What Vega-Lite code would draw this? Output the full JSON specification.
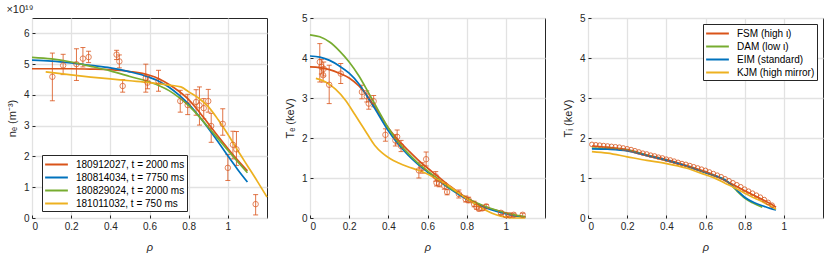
{
  "$schema": "https://vega.github.io/schema/vega-lite/v6.json",
  "padding": {"left": 5, "top": 3, "right": 0, "bottom": 0},
  "bounds": "flush",
  "spacing": 43,
  "config": {
    "font": "Liberation Sans",
    "view": {"stroke": "#262626", "strokeWidth": 1},
    "axis": {
      "domain": false, "gridColor": "#e2e2e2", "gridWidth": 1.3,
      "labelFontSize": 10, "labelColor": "#262626", "titleFontSize": 11,
      "titleFontWeight": "normal", "titleColor": "#262626", "labelOverlap": false,
      "tickColor": "#262626", "tickSize": -3, "labelPadding": 6, "tickCount": 12, "format": "~g"
    },
    "axisX": {"titlePadding": 10},
    "axisY": {"titlePadding": 6},
    "legend": {
      "title": null, "strokeColor": "#262626", "fillColor": "white", "padding": 2,
      "cornerRadius": 0, "symbolType": "M-1.75,0H1.75", "symbolSize": 169, "symbolStrokeWidth": 2,
      "symbolOffset": 5, "labelOffset": 12,
      "labelFontSize": 10, "labelColor": "#000", "rowPadding": 0, "labelLimit": 300
    }
  },
  "resolve": {"scale": {"color": "independent"}, "legend": {"color": "independent"}},
  "datasets": {
    "ne_pts": [
      {"rho": 0.104, "v": 4.59, "lo": 3.81, "hi": 5.36},
      {"rho": 0.159, "v": 4.96, "lo": 4.66, "hi": 5.32},
      {"rho": 0.227, "v": 5.0, "lo": 4.47, "hi": 5.5},
      {"rho": 0.26, "v": 5.18, "lo": 4.91, "hi": 5.54},
      {"rho": 0.289, "v": 5.23, "lo": 5.05, "hi": 5.42},
      {"rho": 0.432, "v": 5.31, "lo": 5.15, "hi": 5.45},
      {"rho": 0.446, "v": 5.09, "lo": 4.88, "hi": 5.3},
      {"rho": 0.463, "v": 4.29, "lo": 4.09, "hi": 4.5},
      {"rho": 0.581, "v": 4.55, "lo": 4.09, "hi": 5.0},
      {"rho": 0.59, "v": 4.4, "lo": 4.2, "hi": 4.6},
      {"rho": 0.646, "v": 4.44, "lo": 4.12, "hi": 4.8},
      {"rho": 0.757, "v": 3.8, "lo": 3.44, "hi": 4.15},
      {"rho": 0.795, "v": 3.67, "lo": 3.36, "hi": 4.02},
      {"rho": 0.838, "v": 3.77, "lo": 3.34, "hi": 4.17},
      {"rho": 0.855, "v": 3.66, "lo": 3.02, "hi": 4.26},
      {"rho": 0.877, "v": 3.57, "lo": 3.22, "hi": 3.88},
      {"rho": 0.9, "v": 3.8, "lo": 3.44, "hi": 4.18},
      {"rho": 0.915, "v": 2.99, "lo": 2.46, "hi": 3.4},
      {"rho": 0.974, "v": 3.06, "lo": 2.69, "hi": 3.55},
      {"rho": 1.0, "v": 1.63, "lo": 1.22, "hi": 2.06},
      {"rho": 1.026, "v": 2.38, "lo": 1.92, "hi": 2.82},
      {"rho": 1.044, "v": 2.23, "lo": 1.71, "hi": 2.81},
      {"rho": 1.142, "v": 0.45, "lo": 0.1, "hi": 0.76}
    ],
    "ne_lines": [
      {"s": "180912027, t = 2000 ms", "rho": 0, "v": 4.85},
      {"s": "180912027, t = 2000 ms", "rho": 0.1, "v": 4.85},
      {"s": "180912027, t = 2000 ms", "rho": 0.2, "v": 4.85},
      {"s": "180912027, t = 2000 ms", "rho": 0.3, "v": 4.84},
      {"s": "180912027, t = 2000 ms", "rho": 0.4, "v": 4.82},
      {"s": "180912027, t = 2000 ms", "rho": 0.5, "v": 4.76},
      {"s": "180912027, t = 2000 ms", "rho": 0.6, "v": 4.64},
      {"s": "180912027, t = 2000 ms", "rho": 0.65, "v": 4.52},
      {"s": "180912027, t = 2000 ms", "rho": 0.7, "v": 4.34},
      {"s": "180912027, t = 2000 ms", "rho": 0.75, "v": 4.12},
      {"s": "180912027, t = 2000 ms", "rho": 0.8, "v": 3.85},
      {"s": "180912027, t = 2000 ms", "rho": 0.85, "v": 3.48},
      {"s": "180912027, t = 2000 ms", "rho": 0.9, "v": 3.07},
      {"s": "180912027, t = 2000 ms", "rho": 0.95, "v": 2.66},
      {"s": "180912027, t = 2000 ms", "rho": 1.0, "v": 2.26},
      {"s": "180912027, t = 2000 ms", "rho": 1.05, "v": 1.88},
      {"s": "180912027, t = 2000 ms", "rho": 1.1, "v": 1.53},
      {"s": "180814034, t = 7750 ms", "rho": 0, "v": 5.13},
      {"s": "180814034, t = 7750 ms", "rho": 0.1, "v": 5.1},
      {"s": "180814034, t = 7750 ms", "rho": 0.2, "v": 5.04},
      {"s": "180814034, t = 7750 ms", "rho": 0.3, "v": 4.96},
      {"s": "180814034, t = 7750 ms", "rho": 0.4, "v": 4.88},
      {"s": "180814034, t = 7750 ms", "rho": 0.5, "v": 4.75},
      {"s": "180814034, t = 7750 ms", "rho": 0.6, "v": 4.57},
      {"s": "180814034, t = 7750 ms", "rho": 0.65, "v": 4.44},
      {"s": "180814034, t = 7750 ms", "rho": 0.7, "v": 4.25},
      {"s": "180814034, t = 7750 ms", "rho": 0.75, "v": 4.0},
      {"s": "180814034, t = 7750 ms", "rho": 0.8, "v": 3.7},
      {"s": "180814034, t = 7750 ms", "rho": 0.85, "v": 3.33},
      {"s": "180814034, t = 7750 ms", "rho": 0.9, "v": 2.92},
      {"s": "180814034, t = 7750 ms", "rho": 0.95, "v": 2.48},
      {"s": "180814034, t = 7750 ms", "rho": 1.0, "v": 2.02},
      {"s": "180814034, t = 7750 ms", "rho": 1.05, "v": 1.58},
      {"s": "180814034, t = 7750 ms", "rho": 1.1, "v": 1.17},
      {"s": "180829024, t = 2000 ms", "rho": 0, "v": 5.22},
      {"s": "180829024, t = 2000 ms", "rho": 0.1, "v": 5.17},
      {"s": "180829024, t = 2000 ms", "rho": 0.2, "v": 5.07},
      {"s": "180829024, t = 2000 ms", "rho": 0.3, "v": 4.93},
      {"s": "180829024, t = 2000 ms", "rho": 0.4, "v": 4.78},
      {"s": "180829024, t = 2000 ms", "rho": 0.5, "v": 4.6},
      {"s": "180829024, t = 2000 ms", "rho": 0.6, "v": 4.42},
      {"s": "180829024, t = 2000 ms", "rho": 0.65, "v": 4.3},
      {"s": "180829024, t = 2000 ms", "rho": 0.7, "v": 4.14},
      {"s": "180829024, t = 2000 ms", "rho": 0.75, "v": 3.92},
      {"s": "180829024, t = 2000 ms", "rho": 0.8, "v": 3.65},
      {"s": "180829024, t = 2000 ms", "rho": 0.85, "v": 3.32},
      {"s": "180829024, t = 2000 ms", "rho": 0.9, "v": 2.95},
      {"s": "180829024, t = 2000 ms", "rho": 0.95, "v": 2.58},
      {"s": "180829024, t = 2000 ms", "rho": 1.0, "v": 2.2},
      {"s": "180829024, t = 2000 ms", "rho": 1.05, "v": 1.83},
      {"s": "180829024, t = 2000 ms", "rho": 1.1, "v": 1.47},
      {"s": "181011032, t = 750 ms", "rho": 0.07, "v": 4.75},
      {"s": "181011032, t = 750 ms", "rho": 0.2, "v": 4.65},
      {"s": "181011032, t = 750 ms", "rho": 0.3, "v": 4.58},
      {"s": "181011032, t = 750 ms", "rho": 0.4, "v": 4.52},
      {"s": "181011032, t = 750 ms", "rho": 0.5, "v": 4.46},
      {"s": "181011032, t = 750 ms", "rho": 0.6, "v": 4.4},
      {"s": "181011032, t = 750 ms", "rho": 0.7, "v": 4.32},
      {"s": "181011032, t = 750 ms", "rho": 0.76, "v": 4.26},
      {"s": "181011032, t = 750 ms", "rho": 0.8, "v": 4.1},
      {"s": "181011032, t = 750 ms", "rho": 0.85, "v": 3.9},
      {"s": "181011032, t = 750 ms", "rho": 0.9, "v": 3.62},
      {"s": "181011032, t = 750 ms", "rho": 0.95, "v": 3.2},
      {"s": "181011032, t = 750 ms", "rho": 1.0, "v": 2.72},
      {"s": "181011032, t = 750 ms", "rho": 1.05, "v": 2.2},
      {"s": "181011032, t = 750 ms", "rho": 1.1, "v": 1.7},
      {"s": "181011032, t = 750 ms", "rho": 1.15, "v": 1.2},
      {"s": "181011032, t = 750 ms", "rho": 1.2, "v": 0.68}
    ],
    "te_pts": [
      {"rho": 0.05, "v": 3.9, "lo": 3.4, "hi": 4.36},
      {"rho": 0.058, "v": 3.78, "lo": 3.6, "hi": 3.96},
      {"rho": 0.07, "v": 3.73, "lo": 3.55, "hi": 3.9},
      {"rho": 0.067, "v": 3.57, "lo": 3.4, "hi": 3.75},
      {"rho": 0.098, "v": 3.33, "lo": 2.86, "hi": 3.82},
      {"rho": 0.157, "v": 3.61, "lo": 3.36, "hi": 3.86},
      {"rho": 0.265, "v": 3.15, "lo": 2.98, "hi": 3.32},
      {"rho": 0.29, "v": 3.04, "lo": 2.9, "hi": 3.18},
      {"rho": 0.3, "v": 2.86, "lo": 2.72, "hi": 3.0},
      {"rho": 0.325, "v": 2.92, "lo": 2.78, "hi": 3.06},
      {"rho": 0.385, "v": 2.08, "lo": 1.92, "hi": 2.23},
      {"rho": 0.436, "v": 1.94, "lo": 1.8, "hi": 2.08},
      {"rho": 0.445, "v": 2.03, "lo": 1.85, "hi": 2.2},
      {"rho": 0.465, "v": 1.8, "lo": 1.66, "hi": 1.94},
      {"rho": 0.556, "v": 1.19, "lo": 1.0, "hi": 1.38},
      {"rho": 0.573, "v": 1.25, "lo": 1.12, "hi": 1.38},
      {"rho": 0.593, "v": 1.47, "lo": 1.3, "hi": 1.65},
      {"rho": 0.642, "v": 1.04, "lo": 0.92, "hi": 1.16},
      {"rho": 0.646, "v": 0.88, "lo": 0.8, "hi": 0.98},
      {"rho": 0.66, "v": 0.86, "lo": 0.78, "hi": 0.94},
      {"rho": 0.686, "v": 0.8, "lo": 0.72, "hi": 0.88},
      {"rho": 0.7, "v": 0.65, "lo": 0.58, "hi": 0.72},
      {"rho": 0.76, "v": 0.6, "lo": 0.5, "hi": 0.7},
      {"rho": 0.795, "v": 0.47, "lo": 0.4, "hi": 0.55},
      {"rho": 0.81, "v": 0.45, "lo": 0.38, "hi": 0.52},
      {"rho": 0.838, "v": 0.35, "lo": 0.28, "hi": 0.42},
      {"rho": 0.85, "v": 0.28, "lo": 0.22, "hi": 0.34},
      {"rho": 0.863, "v": 0.23, "lo": 0.18, "hi": 0.28},
      {"rho": 0.88, "v": 0.24, "lo": 0.19, "hi": 0.29},
      {"rho": 0.9, "v": 0.29, "lo": 0.24, "hi": 0.34},
      {"rho": 0.975, "v": 0.13, "lo": 0.09, "hi": 0.17},
      {"rho": 1.0, "v": 0.07, "lo": 0.03, "hi": 0.11},
      {"rho": 1.02, "v": 0.07, "lo": 0.03, "hi": 0.11},
      {"rho": 1.04, "v": 0.08, "lo": 0.04, "hi": 0.12},
      {"rho": 1.086, "v": 0.08, "lo": 0.04, "hi": 0.12}
    ],
    "te_lines": [
      {"s": "180912027, t = 2000 ms", "rho": 0, "v": 3.78},
      {"s": "180912027, t = 2000 ms", "rho": 0.05, "v": 3.76},
      {"s": "180912027, t = 2000 ms", "rho": 0.1, "v": 3.71},
      {"s": "180912027, t = 2000 ms", "rho": 0.15, "v": 3.62},
      {"s": "180912027, t = 2000 ms", "rho": 0.2, "v": 3.5},
      {"s": "180912027, t = 2000 ms", "rho": 0.25, "v": 3.3},
      {"s": "180912027, t = 2000 ms", "rho": 0.3, "v": 3.0},
      {"s": "180912027, t = 2000 ms", "rho": 0.35, "v": 2.63},
      {"s": "180912027, t = 2000 ms", "rho": 0.4, "v": 2.25},
      {"s": "180912027, t = 2000 ms", "rho": 0.45, "v": 1.95},
      {"s": "180912027, t = 2000 ms", "rho": 0.5, "v": 1.7},
      {"s": "180912027, t = 2000 ms", "rho": 0.55, "v": 1.46},
      {"s": "180912027, t = 2000 ms", "rho": 0.6, "v": 1.25},
      {"s": "180912027, t = 2000 ms", "rho": 0.65, "v": 1.05},
      {"s": "180912027, t = 2000 ms", "rho": 0.7, "v": 0.85},
      {"s": "180912027, t = 2000 ms", "rho": 0.75, "v": 0.67},
      {"s": "180912027, t = 2000 ms", "rho": 0.8, "v": 0.5},
      {"s": "180912027, t = 2000 ms", "rho": 0.85, "v": 0.37},
      {"s": "180912027, t = 2000 ms", "rho": 0.9, "v": 0.27},
      {"s": "180912027, t = 2000 ms", "rho": 0.95, "v": 0.19},
      {"s": "180912027, t = 2000 ms", "rho": 1.0, "v": 0.12},
      {"s": "180912027, t = 2000 ms", "rho": 1.05, "v": 0.06},
      {"s": "180912027, t = 2000 ms", "rho": 1.1, "v": 0.02},
      {"s": "180814034, t = 7750 ms", "rho": 0, "v": 4.05},
      {"s": "180814034, t = 7750 ms", "rho": 0.05, "v": 4.02},
      {"s": "180814034, t = 7750 ms", "rho": 0.1, "v": 3.94},
      {"s": "180814034, t = 7750 ms", "rho": 0.15, "v": 3.8},
      {"s": "180814034, t = 7750 ms", "rho": 0.2, "v": 3.62},
      {"s": "180814034, t = 7750 ms", "rho": 0.25, "v": 3.35},
      {"s": "180814034, t = 7750 ms", "rho": 0.3, "v": 2.98},
      {"s": "180814034, t = 7750 ms", "rho": 0.35, "v": 2.58},
      {"s": "180814034, t = 7750 ms", "rho": 0.4, "v": 2.18},
      {"s": "180814034, t = 7750 ms", "rho": 0.45, "v": 1.85},
      {"s": "180814034, t = 7750 ms", "rho": 0.5, "v": 1.58},
      {"s": "180814034, t = 7750 ms", "rho": 0.55, "v": 1.35},
      {"s": "180814034, t = 7750 ms", "rho": 0.6, "v": 1.15},
      {"s": "180814034, t = 7750 ms", "rho": 0.65, "v": 0.96},
      {"s": "180814034, t = 7750 ms", "rho": 0.7, "v": 0.78},
      {"s": "180814034, t = 7750 ms", "rho": 0.75, "v": 0.62},
      {"s": "180814034, t = 7750 ms", "rho": 0.8, "v": 0.47},
      {"s": "180814034, t = 7750 ms", "rho": 0.85, "v": 0.35},
      {"s": "180814034, t = 7750 ms", "rho": 0.9, "v": 0.25},
      {"s": "180814034, t = 7750 ms", "rho": 0.95, "v": 0.17},
      {"s": "180814034, t = 7750 ms", "rho": 1.0, "v": 0.11},
      {"s": "180814034, t = 7750 ms", "rho": 1.05, "v": 0.05},
      {"s": "180814034, t = 7750 ms", "rho": 1.1, "v": 0.02},
      {"s": "180829024, t = 2000 ms", "rho": 0, "v": 4.58},
      {"s": "180829024, t = 2000 ms", "rho": 0.05, "v": 4.53},
      {"s": "180829024, t = 2000 ms", "rho": 0.1, "v": 4.4},
      {"s": "180829024, t = 2000 ms", "rho": 0.15, "v": 4.18},
      {"s": "180829024, t = 2000 ms", "rho": 0.2, "v": 3.9},
      {"s": "180829024, t = 2000 ms", "rho": 0.25, "v": 3.55},
      {"s": "180829024, t = 2000 ms", "rho": 0.3, "v": 3.12},
      {"s": "180829024, t = 2000 ms", "rho": 0.35, "v": 2.68},
      {"s": "180829024, t = 2000 ms", "rho": 0.4, "v": 2.25},
      {"s": "180829024, t = 2000 ms", "rho": 0.45, "v": 1.9},
      {"s": "180829024, t = 2000 ms", "rho": 0.5, "v": 1.62},
      {"s": "180829024, t = 2000 ms", "rho": 0.55, "v": 1.38},
      {"s": "180829024, t = 2000 ms", "rho": 0.6, "v": 1.18},
      {"s": "180829024, t = 2000 ms", "rho": 0.65, "v": 0.99},
      {"s": "180829024, t = 2000 ms", "rho": 0.7, "v": 0.8},
      {"s": "180829024, t = 2000 ms", "rho": 0.75, "v": 0.64},
      {"s": "180829024, t = 2000 ms", "rho": 0.8, "v": 0.5},
      {"s": "180829024, t = 2000 ms", "rho": 0.85, "v": 0.38},
      {"s": "180829024, t = 2000 ms", "rho": 0.9, "v": 0.28},
      {"s": "180829024, t = 2000 ms", "rho": 0.95, "v": 0.2},
      {"s": "180829024, t = 2000 ms", "rho": 1.0, "v": 0.13},
      {"s": "180829024, t = 2000 ms", "rho": 1.05, "v": 0.07},
      {"s": "180829024, t = 2000 ms", "rho": 1.1, "v": 0.03},
      {"s": "181011032, t = 750 ms", "rho": 0.03, "v": 3.49},
      {"s": "181011032, t = 750 ms", "rho": 0.08, "v": 3.4},
      {"s": "181011032, t = 750 ms", "rho": 0.13, "v": 3.22},
      {"s": "181011032, t = 750 ms", "rho": 0.18, "v": 2.95},
      {"s": "181011032, t = 750 ms", "rho": 0.23, "v": 2.58},
      {"s": "181011032, t = 750 ms", "rho": 0.26, "v": 2.35},
      {"s": "181011032, t = 750 ms", "rho": 0.29, "v": 2.12},
      {"s": "181011032, t = 750 ms", "rho": 0.33, "v": 1.82},
      {"s": "181011032, t = 750 ms", "rho": 0.37, "v": 1.62},
      {"s": "181011032, t = 750 ms", "rho": 0.41, "v": 1.48},
      {"s": "181011032, t = 750 ms", "rho": 0.45, "v": 1.38},
      {"s": "181011032, t = 750 ms", "rho": 0.5, "v": 1.28},
      {"s": "181011032, t = 750 ms", "rho": 0.55, "v": 1.2},
      {"s": "181011032, t = 750 ms", "rho": 0.6, "v": 1.1},
      {"s": "181011032, t = 750 ms", "rho": 0.65, "v": 0.96},
      {"s": "181011032, t = 750 ms", "rho": 0.7, "v": 0.83},
      {"s": "181011032, t = 750 ms", "rho": 0.75, "v": 0.66},
      {"s": "181011032, t = 750 ms", "rho": 0.8, "v": 0.48},
      {"s": "181011032, t = 750 ms", "rho": 0.85, "v": 0.33},
      {"s": "181011032, t = 750 ms", "rho": 0.9, "v": 0.19},
      {"s": "181011032, t = 750 ms", "rho": 0.95, "v": 0.08},
      {"s": "181011032, t = 750 ms", "rho": 1.0, "v": 0.02},
      {"s": "181011032, t = 750 ms", "rho": 1.05, "v": 0.0},
      {"s": "181011032, t = 750 ms", "rho": 1.1, "v": 0.0}
    ],
    "ti_pts": [
      {"rho": 0.02, "v": 1.84}, {"rho": 0.04, "v": 1.83}, {"rho": 0.06, "v": 1.82},
      {"rho": 0.08, "v": 1.81}, {"rho": 0.1, "v": 1.8}, {"rho": 0.12, "v": 1.79},
      {"rho": 0.14, "v": 1.78}, {"rho": 0.16, "v": 1.77}, {"rho": 0.18, "v": 1.75},
      {"rho": 0.2, "v": 1.73}, {"rho": 0.22, "v": 1.71}, {"rho": 0.24, "v": 1.68},
      {"rho": 0.26, "v": 1.65}, {"rho": 0.28, "v": 1.62}, {"rho": 0.3, "v": 1.6},
      {"rho": 0.32, "v": 1.57}, {"rho": 0.34, "v": 1.55}, {"rho": 0.36, "v": 1.52},
      {"rho": 0.38, "v": 1.5}, {"rho": 0.4, "v": 1.47}, {"rho": 0.42, "v": 1.45},
      {"rho": 0.44, "v": 1.42}, {"rho": 0.46, "v": 1.39}, {"rho": 0.48, "v": 1.36},
      {"rho": 0.5, "v": 1.34}, {"rho": 0.52, "v": 1.31}, {"rho": 0.54, "v": 1.28},
      {"rho": 0.56, "v": 1.25}, {"rho": 0.58, "v": 1.22}, {"rho": 0.6, "v": 1.19},
      {"rho": 0.62, "v": 1.15}, {"rho": 0.64, "v": 1.11}, {"rho": 0.66, "v": 1.07},
      {"rho": 0.68, "v": 1.03}, {"rho": 0.7, "v": 0.98}, {"rho": 0.72, "v": 0.93},
      {"rho": 0.74, "v": 0.88}, {"rho": 0.76, "v": 0.83}, {"rho": 0.78, "v": 0.78},
      {"rho": 0.8, "v": 0.72}, {"rho": 0.82, "v": 0.67}, {"rho": 0.84, "v": 0.62},
      {"rho": 0.86, "v": 0.57}, {"rho": 0.88, "v": 0.52}, {"rho": 0.9, "v": 0.46},
      {"rho": 0.92, "v": 0.39}, {"rho": 0.94, "v": 0.32}
    ],
    "ti_lines": [
      {"s": "FSM (high ι)", "rho": 0.02, "v": 1.8},
      {"s": "FSM (high ι)", "rho": 0.1, "v": 1.77},
      {"s": "FSM (high ι)", "rho": 0.2, "v": 1.71},
      {"s": "FSM (high ι)", "rho": 0.3, "v": 1.58},
      {"s": "FSM (high ι)", "rho": 0.4, "v": 1.46},
      {"s": "FSM (high ι)", "rho": 0.5, "v": 1.32},
      {"s": "FSM (high ι)", "rho": 0.6, "v": 1.16},
      {"s": "FSM (high ι)", "rho": 0.65, "v": 1.06},
      {"s": "FSM (high ι)", "rho": 0.7, "v": 0.94},
      {"s": "FSM (high ι)", "rho": 0.75, "v": 0.81},
      {"s": "FSM (high ι)", "rho": 0.8, "v": 0.68},
      {"s": "FSM (high ι)", "rho": 0.85, "v": 0.56},
      {"s": "FSM (high ι)", "rho": 0.9, "v": 0.44},
      {"s": "FSM (high ι)", "rho": 0.93, "v": 0.36},
      {"s": "FSM (high ι)", "rho": 0.96, "v": 0.27},
      {"s": "DAM (low ι)", "rho": 0.02, "v": 1.75},
      {"s": "DAM (low ι)", "rho": 0.1, "v": 1.74},
      {"s": "DAM (low ι)", "rho": 0.2, "v": 1.69},
      {"s": "DAM (low ι)", "rho": 0.3, "v": 1.57},
      {"s": "DAM (low ι)", "rho": 0.4, "v": 1.44},
      {"s": "DAM (low ι)", "rho": 0.5, "v": 1.3},
      {"s": "DAM (low ι)", "rho": 0.6, "v": 1.13},
      {"s": "DAM (low ι)", "rho": 0.65, "v": 1.05},
      {"s": "DAM (low ι)", "rho": 0.7, "v": 0.95},
      {"s": "DAM (low ι)", "rho": 0.73, "v": 0.83},
      {"s": "DAM (low ι)", "rho": 0.76, "v": 0.68},
      {"s": "DAM (low ι)", "rho": 0.8, "v": 0.5},
      {"s": "DAM (low ι)", "rho": 0.84, "v": 0.38},
      {"s": "DAM (low ι)", "rho": 0.89, "v": 0.27},
      {"s": "EIM (standard)", "rho": 0.02, "v": 1.73},
      {"s": "EIM (standard)", "rho": 0.1, "v": 1.72},
      {"s": "EIM (standard)", "rho": 0.2, "v": 1.68},
      {"s": "EIM (standard)", "rho": 0.3, "v": 1.56},
      {"s": "EIM (standard)", "rho": 0.4, "v": 1.44},
      {"s": "EIM (standard)", "rho": 0.5, "v": 1.3},
      {"s": "EIM (standard)", "rho": 0.6, "v": 1.13},
      {"s": "EIM (standard)", "rho": 0.65, "v": 1.05},
      {"s": "EIM (standard)", "rho": 0.7, "v": 0.95},
      {"s": "EIM (standard)", "rho": 0.73, "v": 0.84},
      {"s": "EIM (standard)", "rho": 0.76, "v": 0.7},
      {"s": "EIM (standard)", "rho": 0.8, "v": 0.52},
      {"s": "EIM (standard)", "rho": 0.85, "v": 0.38},
      {"s": "EIM (standard)", "rho": 0.9, "v": 0.29},
      {"s": "EIM (standard)", "rho": 0.93, "v": 0.24},
      {"s": "EIM (standard)", "rho": 0.96, "v": 0.2},
      {"s": "KJM (high mirror)", "rho": 0.02, "v": 1.66},
      {"s": "KJM (high mirror)", "rho": 0.1, "v": 1.62},
      {"s": "KJM (high mirror)", "rho": 0.2, "v": 1.53},
      {"s": "KJM (high mirror)", "rho": 0.3, "v": 1.44},
      {"s": "KJM (high mirror)", "rho": 0.4, "v": 1.36},
      {"s": "KJM (high mirror)", "rho": 0.5, "v": 1.25},
      {"s": "KJM (high mirror)", "rho": 0.6, "v": 1.08},
      {"s": "KJM (high mirror)", "rho": 0.65, "v": 0.99},
      {"s": "KJM (high mirror)", "rho": 0.7, "v": 0.87},
      {"s": "KJM (high mirror)", "rho": 0.75, "v": 0.75},
      {"s": "KJM (high mirror)", "rho": 0.8, "v": 0.62},
      {"s": "KJM (high mirror)", "rho": 0.85, "v": 0.5},
      {"s": "KJM (high mirror)", "rho": 0.9, "v": 0.38},
      {"s": "KJM (high mirror)", "rho": 0.96, "v": 0.22}
    ]
  },
  "hconcat": [
    {
      "width": 235, "height": 200,
      "title": {"text": "×10¹⁹", "anchor": "start", "fontSize": 11, "fontWeight": "normal", "color": "#262626", "offset": 3, "font": "Liberation Sans"},
      "layer": [
        {
          "data": {"name": "ne_pts"},
          "mark": {"type": "rule", "color": "#D95319", "strokeWidth": 1, "opacity": 0.8},
          "encoding": {
            "x": {"field": "rho", "type": "quantitative", "scale": {"domain": [0, 1.2], "nice": false, "zero": false},
              "axis": {"values": [0, 0.2, 0.4, 0.6, 0.8, 1], "title": "ρ", "titleFontStyle": "italic", "format": "~g"}},
            "y": {"field": "lo", "type": "quantitative", "scale": {"domain": [0, 6.5], "nice": false, "zero": false},
              "axis": {"values": [0, 1, 2, 3, 4, 5, 6], "title": "nₑ (m⁻³)", "format": "~g"}},
            "y2": {"field": "hi"}
          }
        },
        {
          "data": {"name": "ne_pts"},
          "mark": {"type": "tick", "orient": "horizontal", "color": "#D95319", "size": 5, "thickness": 1, "opacity": 0.8},
          "encoding": {
            "x": {"field": "rho", "type": "quantitative"},
            "y": {"field": "lo", "type": "quantitative"}
          }
        },
        {
          "data": {"name": "ne_pts"},
          "mark": {"type": "tick", "orient": "horizontal", "color": "#D95319", "size": 5, "thickness": 1, "opacity": 0.8},
          "encoding": {
            "x": {"field": "rho", "type": "quantitative"},
            "y": {"field": "hi", "type": "quantitative"}
          }
        },
        {
          "data": {"name": "ne_lines"},
          "mark": {"type": "line", "strokeWidth": 1.7, "interpolate": "monotone"},
          "encoding": {
            "x": {"field": "rho", "type": "quantitative"},
            "y": {"field": "v", "type": "quantitative"},
            "color": {"field": "s", "type": "nominal",
              "scale": {"domain": ["180912027, t = 2000 ms", "180814034, t = 7750 ms", "180829024, t = 2000 ms", "181011032, t = 750 ms"],
                "range": ["#D95319", "#0072BD", "#77AC30", "#EDB120"]},
              "legend": {"orient": "none", "legendX": 10, "legendY": 137}}
          }
        },
        {
          "data": {"name": "ne_pts"},
          "mark": {"type": "point", "shape": "circle", "filled": false, "color": "#D95319", "size": 30, "strokeWidth": 1},
          "encoding": {
            "x": {"field": "rho", "type": "quantitative"},
            "y": {"field": "v", "type": "quantitative"}
          }
        }
      ]
    },
    {
      "width": 235, "height": 200,
      "layer": [
        {
          "data": {"name": "te_pts"},
          "mark": {"type": "rule", "color": "#D95319", "strokeWidth": 1, "opacity": 0.8},
          "encoding": {
            "x": {"field": "rho", "type": "quantitative", "scale": {"domain": [0, 1.2], "nice": false, "zero": false},
              "axis": {"values": [0, 0.2, 0.4, 0.6, 0.8, 1], "title": "ρ", "titleFontStyle": "italic", "format": "~g"}},
            "y": {"field": "lo", "type": "quantitative", "scale": {"domain": [0, 5], "nice": false, "zero": false},
              "axis": {"values": [0, 1, 2, 3, 4, 5], "title": "Tₑ (keV)", "format": "~g"}},
            "y2": {"field": "hi"}
          }
        },
        {
          "data": {"name": "te_pts"},
          "mark": {"type": "tick", "orient": "horizontal", "color": "#D95319", "size": 5, "thickness": 1, "opacity": 0.8},
          "encoding": {
            "x": {"field": "rho", "type": "quantitative"},
            "y": {"field": "lo", "type": "quantitative"}
          }
        },
        {
          "data": {"name": "te_pts"},
          "mark": {"type": "tick", "orient": "horizontal", "color": "#D95319", "size": 5, "thickness": 1, "opacity": 0.8},
          "encoding": {
            "x": {"field": "rho", "type": "quantitative"},
            "y": {"field": "hi", "type": "quantitative"}
          }
        },
        {
          "data": {"name": "te_lines"},
          "mark": {"type": "line", "strokeWidth": 1.7, "interpolate": "monotone"},
          "encoding": {
            "x": {"field": "rho", "type": "quantitative"},
            "y": {"field": "v", "type": "quantitative"},
            "color": {"field": "s", "type": "nominal",
              "scale": {"domain": ["180912027, t = 2000 ms", "180814034, t = 7750 ms", "180829024, t = 2000 ms", "181011032, t = 750 ms"],
                "range": ["#D95319", "#0072BD", "#77AC30", "#EDB120"]},
              "legend": null}
          }
        },
        {
          "data": {"name": "te_pts"},
          "mark": {"type": "point", "shape": "circle", "filled": false, "color": "#D95319", "size": 30, "strokeWidth": 1},
          "encoding": {
            "x": {"field": "rho", "type": "quantitative"},
            "y": {"field": "v", "type": "quantitative"}
          }
        }
      ]
    },
    {
      "width": 235, "height": 200,
      "layer": [
        {
          "data": {"name": "ti_lines"},
          "mark": {"type": "line", "strokeWidth": 1.7, "interpolate": "monotone"},
          "encoding": {
            "x": {"field": "rho", "type": "quantitative", "scale": {"domain": [0, 1.2], "nice": false, "zero": false},
              "axis": {"values": [0, 0.2, 0.4, 0.6, 0.8, 1], "title": "ρ", "titleFontStyle": "italic", "format": "~g"}},
            "y": {"field": "v", "type": "quantitative", "scale": {"domain": [0, 5], "nice": false, "zero": false},
              "axis": {"values": [0, 1, 2, 3, 4, 5], "title": "Tᵢ (keV)", "format": "~g"}},
            "color": {"field": "s", "type": "nominal",
              "scale": {"domain": ["FSM (high ι)", "DAM (low ι)", "EIM (standard)", "KJM (high mirror)"],
                "range": ["#D95319", "#77AC30", "#0072BD", "#EDB120"]},
              "legend": {"orient": "top-right", "offset": 6}}
          }
        },
        {
          "data": {"name": "ti_pts"},
          "mark": {"type": "point", "shape": "circle", "filled": false, "color": "#D95319", "size": 22, "strokeWidth": 1, "opacity": 0.8},
          "encoding": {
            "x": {"field": "rho", "type": "quantitative"},
            "y": {"field": "v", "type": "quantitative"}
          }
        }
      ]
    }
  ]
}
